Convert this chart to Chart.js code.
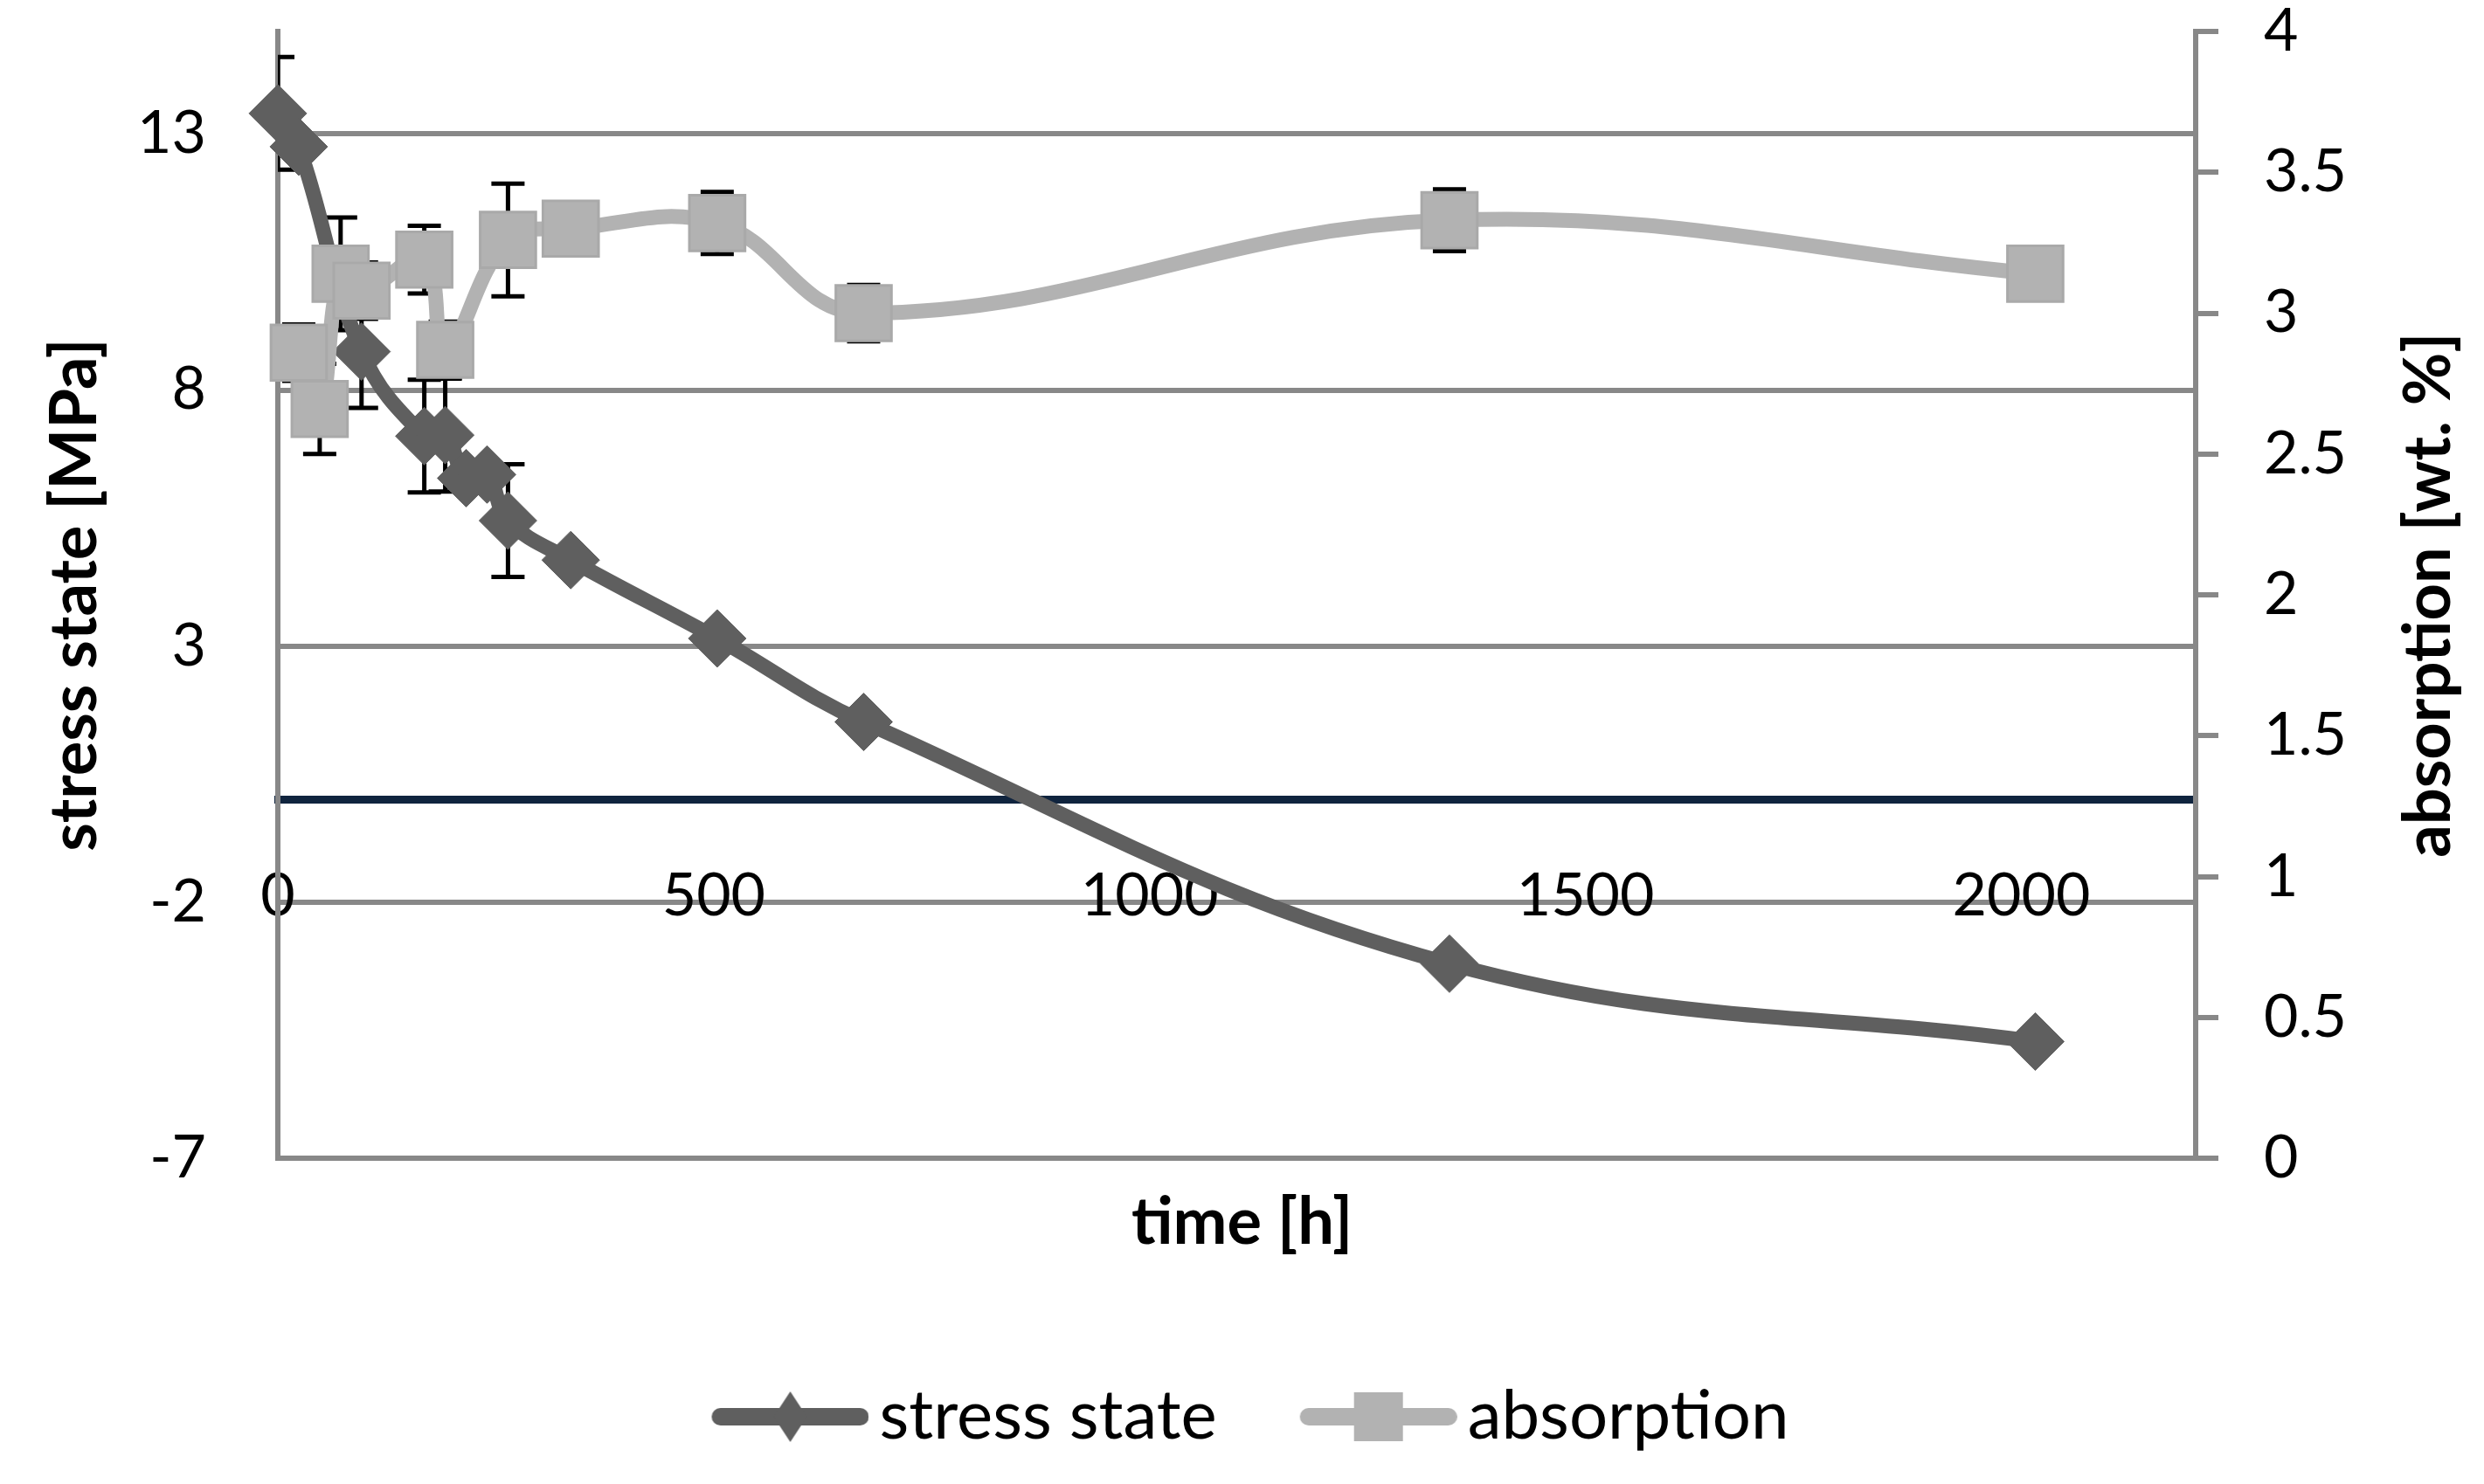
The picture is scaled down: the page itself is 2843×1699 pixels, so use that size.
<!DOCTYPE html>
<html>
<head>
<meta charset="utf-8">
<script src="https://cdn.jsdelivr.net/npm/chart.js@4.4.1/dist/chart.umd.min.js"></script>
<style>
  html, body { margin: 0; padding: 0; background: #fff; }
  canvas { display: block; }
</style>
</head>
<body>
<canvas id="chart" width="2843" height="1699"></canvas>
<script>
// stress state, left axis [MPa]
const stressTimes  = [0, 24, 96, 168, 192, 216, 240, 264, 336, 504, 672, 1344, 2016];
const stressValues = [13.4, 12.75, 8.75, 7.1, 7.12, 6.28, 6.35, 5.45, 4.68, 3.15, 1.52, -3.2, -4.72];
const stressErrors = [1.1, 0, 1.1, 1.1, 1.1, 0, 0, 1.1, 0, 0, 0, 0, 0];

// absorption, right axis [wt. %]
const absorptionTimes  = [24, 48, 72, 96, 168, 192, 264, 336, 504, 672, 1344, 2016];
const absorptionValues = [2.86, 2.66, 3.14, 3.08, 3.19, 2.87, 3.26, 3.30, 3.32, 3.00, 3.33, 3.14];
const absorptionErrors = [0.1, 0.16, 0.2, 0.1, 0.12, 0.1, 0.2, 0, 0.11, 0.1, 0.11, 0];

// axis ticks
const timeTicks = [0, 500, 1000, 1500, 2000];
const stressTicks = [-7, -2, 3, 8, 13];
const absorptionTicks = [0, 0.5, 1, 1.5, 2, 2.5, 3, 3.5, 4];

const DARK = '#5f5f5f';
const LIGHT = '#b2b2b2';
const GRID = '#888888';

Chart.defaults.font.family = 'Lato';
Chart.defaults.color = '#000';

// black error bars, drawn under the markers
const errorBars = {
  id: 'errorBars',
  beforeDatasetsDraw(chart) {
    const ctx = chart.ctx, a = chart.chartArea;
    ctx.save();
    ctx.beginPath();
    ctx.rect(a.left, a.top, a.right - a.left, a.bottom - a.top);
    ctx.clip();
    ctx.strokeStyle = '#000';
    ctx.lineWidth = 5;
    chart.data.datasets.forEach((ds, i) => {
      const meta = chart.getDatasetMeta(i);
      const ys = chart.scales[ds.yAxisID];
      meta.data.forEach((pt, j) => {
        const err = ds.errors[j];
        if (!err) return;
        const v = ds.data[j].y;
        const t = ys.getPixelForValue(v + err), b = ys.getPixelForValue(v - err);
        ctx.beginPath();
        ctx.moveTo(pt.x, t); ctx.lineTo(pt.x, b);
        ctx.moveTo(pt.x - 19, t); ctx.lineTo(pt.x + 19, t);
        ctx.moveTo(pt.x - 19, b); ctx.lineTo(pt.x + 19, b);
        ctx.stroke();
      });
    });
    ctx.restore();
  }
};

// right axis title reads bottom-to-top like the left one
const rightTitle = {
  id: 'rightTitle',
  afterDraw(chart) {
    const ctx = chart.ctx, a = chart.chartArea;
    ctx.save();
    ctx.translate(2780, (a.top + a.bottom) / 2);
    ctx.rotate(-Math.PI / 2);
    ctx.font = 'bold 74px Lato';
    ctx.fillStyle = '#000';
    ctx.textAlign = 'center';
    ctx.textBaseline = 'middle';
    ctx.fillText('absorption [wt. %]', 0, 0);
    ctx.restore();
  }
};

// legend icon: thick line with the marker on it
function legendIcon(color, shape) {
  const shift = 23;
  const c = document.createElement('canvas');
  c.width = 180 + 2 * shift; c.height = 64;
  const g = c.getContext('2d');
  const x0 = 2 * shift, cx = x0 + 90, cy = 32;
  g.strokeStyle = color; g.lineWidth = 20; g.lineCap = 'round';
  g.beginPath(); g.moveTo(x0 + 10, cy); g.lineTo(x0 + 170, cy); g.stroke();
  g.fillStyle = color;
  if (shape === 'diamond') {
    g.beginPath();
    g.moveTo(cx, cy - 29); g.lineTo(cx + 19, cy); g.lineTo(cx, cy + 29); g.lineTo(cx - 19, cy);
    g.closePath(); g.fill();
  } else {
    g.fillRect(cx - 28, cy - 28, 56, 56);
  }
  return c;
}

const stressIcon = legendIcon(DARK, 'diamond');
const absorptionIcon = legendIcon(LIGHT, 'square');

const plainLabel = (v) => String(v);

new Chart(document.getElementById('chart'), {
  type: 'line',
  data: {
    datasets: [{
      label: 'stress state',
      data: stressTimes.map((t, i) => ({ x: t, y: stressValues[i] })),
      errors: stressErrors,
      yAxisID: 'y',
      borderColor: DARK,
      backgroundColor: DARK,
      borderWidth: 17,
      tension: 0.4,
      pointStyle: 'rectRot',
      pointRadius: 33,
      pointBorderWidth: 1,
      pointBorderColor: DARK,
      pointBackgroundColor: DARK,
      clip: false,
      order: 2
    }, {
      label: 'absorption',
      data: absorptionTimes.map((t, i) => ({ x: t, y: absorptionValues[i] })),
      errors: absorptionErrors,
      yAxisID: 'y1',
      borderColor: LIGHT,
      backgroundColor: LIGHT,
      borderWidth: 17,
      tension: 0.4,
      pointStyle: 'rect',
      pointRadius: 45,
      pointBorderWidth: 3,
      pointBorderColor: '#a9a9a9',
      pointBackgroundColor: LIGHT,
      clip: false,
      order: 1
    }]
  },
  options: {
    responsive: false,
    devicePixelRatio: 1,
    animation: false,
    events: [],
    layout: { autoPadding: false, padding: { top: 36, bottom: 28, left: 0, right: 0 } },
    scales: {
      x: {
        type: 'linear',
        position: { y: 0 },
        min: 0,
        max: 2200,
        afterBuildTicks: (s) => { s.ticks = timeTicks.map(v => ({ value: v })); },
        afterFit: (s) => { s.height = 0; s.paddingLeft = 0; s.paddingRight = 0; },
        grid: { display: false },
        border: { color: '#10243e', width: 9 },
        ticks: { font: { size: 68 }, padding: 62, maxRotation: 0, autoSkip: false, callback: plainLabel }
      },
      y: {
        position: 'left',
        min: -7,
        max: 15,
        afterBuildTicks: (s) => { s.ticks = stressTicks.map(v => ({ value: v })); },
        afterFit: (s) => { s.width = 318; s.paddingTop = 0; s.paddingBottom = 0; },
        grid: { color: GRID, lineWidth: 6, drawTicks: false },
        border: { color: GRID, width: 6 },
        ticks: { font: { size: 68 }, padding: 82, callback: plainLabel },
        title: {
          display: true,
          text: 'stress state [MPa]',
          font: { size: 74, weight: 'bold' },
          padding: { top: 42, bottom: 0 }
        }
      },
      y1: {
        position: 'right',
        min: 0,
        max: 4,
        afterBuildTicks: (s) => { s.ticks = absorptionTicks.map(v => ({ value: v })); },
        afterFit: (s) => { s.width = 330; s.paddingTop = 0; s.paddingBottom = 0; },
        grid: { drawOnChartArea: false, color: GRID, lineWidth: 6, tickLength: 26 },
        border: { color: GRID, width: 6 },
        ticks: { font: { size: 68 }, padding: 52, callback: plainLabel }
      }
    },
    plugins: {
      tooltip: { enabled: false },
      title: {
        display: true,
        text: 'time [h]',
        position: 'bottom',
        weight: 500,
        color: '#000',
        font: { size: 74, weight: 'bold' },
        padding: { top: 30, bottom: 62 }
      },
      legend: {
        position: 'bottom',
        labels: {
          usePointStyle: true,
          pointStyleWidth: 172,
          padding: 76,
          color: '#000',
          font: { size: 78 },
          generateLabels: () => [
            { text: 'stress state', pointStyle: stressIcon, fillStyle: DARK, strokeStyle: DARK, lineWidth: 0, hidden: false, datasetIndex: 0 },
            { text: 'absorption', pointStyle: absorptionIcon, fillStyle: LIGHT, strokeStyle: LIGHT, lineWidth: 0, hidden: false, datasetIndex: 1 }
          ]
        }
      }
    }
  },
  plugins: [errorBars, rightTitle]
});
</script>
</body>
</html>
